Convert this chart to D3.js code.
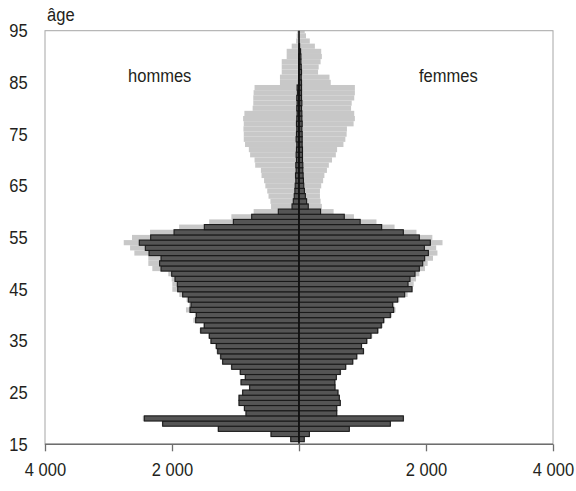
<!DOCTYPE html>
<html lang="fr">
<head>
    <meta charset="UTF-8">
    <title>Pyramide des âges</title>
    <script src="https://d3js.org/d3.v7.min.js"></script>
    <style>
        body {
            margin: 0;
            background: #fff;
        }
        svg text {
            font-family: "Liberation Sans", Arial, sans-serif;
            font-size: 19px;
            fill: #231f20;
        }
        .domain {
            display: none;
        }
    </style>
</head>
<body>
    <svg width="576" height="491"></svg>
    <script>
        // Âges (une catégorie par année)
        const ages = [15, 16, 17, 18, 19, 20, 21, 22, 23, 24, 25, 26, 27, 28, 29, 30, 31, 32, 33, 34,
            35, 36, 37, 38, 39, 40, 41, 42, 43, 44, 45, 46, 47, 48, 49, 50, 51, 52, 53, 54,
            55, 56, 57, 58, 59, 60, 61, 62, 63, 64, 65, 66, 67, 68, 69, 70, 71, 72, 73, 74,
            75, 76, 77, 78, 79, 80, 81, 82, 83, 84, 85, 86, 87, 88, 89, 90, 91, 92, 93, 94, 95];

        // Série foncée
        const hommes = [0, 130, 441, 1270, 2147, 2436, 835, 860, 945, 945, 887, 777, 913, 845, 924, 1060, 1202, 1233, 1280, 1302,
            1386, 1412, 1548, 1491, 1627, 1617, 1717, 1700, 1743, 1832, 1910, 1916, 1953, 2005, 2173, 2195, 2173, 2362, 2420, 2515,
            2336, 1968, 1491, 1034, 745, 326, 110, 90, 75, 65, 60, 50, 55, 45, 50, 40, 45, 40, 35, 45,
            40, 35, 40, 35, 30, 35, 30, 35, 25, 30, 8, 6, 5, 4, 3, 2, 0, 0, 0, 0, 0];
        const femmes = [0, 83, 163, 792, 1438, 1643, 594, 594, 650, 635, 614, 567, 565, 588, 650, 735, 846, 909, 1014, 983,
            1066, 1134, 1239, 1296, 1333, 1438, 1491, 1475, 1554, 1664, 1780, 1717, 1748, 1827, 1895, 1948, 1979, 2037, 1974, 2068,
            1895, 1643, 1302, 963, 713, 340, 146, 120, 100, 85, 75, 70, 65, 60, 60, 55, 55, 55, 50, 50,
            50, 45, 50, 45, 45, 40, 45, 40, 40, 40, 40, 35, 40, 35, 30, 30, 25, 10, 0, 0, 0];

        // Série claire (en arrière-plan)
        const hommesFond = [0, 140, 450, 1285, 2160, 2460, 845, 870, 955, 955, 900, 790, 925, 860, 940, 1075, 1215, 1250, 1300, 1320,
            1400, 1430, 1565, 1510, 1664, 1640, 1780, 1730, 1770, 1885, 1995, 1995, 2005, 2058, 2310, 2373, 2373, 2593, 2660, 2760,
            2630, 2346, 1888, 1415, 1065, 714, 440, 450, 480, 500, 530, 550, 590, 600, 690, 700, 770, 790, 850, 870,
            870, 875, 870, 880, 860, 730, 720, 720, 715, 700, 300, 300, 272, 272, 272, 194, 194, 115, 45, 36, 30];
        const femmesFond = [0, 90, 170, 800, 1450, 1655, 605, 605, 660, 645, 625, 580, 575, 600, 665, 750, 860, 925, 1030, 1000,
            1085, 1155, 1260, 1320, 1355, 1465, 1520, 1500, 1580, 1711, 1790, 1806, 1843, 1895, 1984, 2026, 2110, 2180, 2160, 2260,
            2100, 1850, 1505, 1220, 865, 545, 360, 340, 330, 330, 350, 380, 400, 440, 470, 520, 580, 600, 700, 730,
            750, 755, 860, 880, 870, 820, 830, 870, 880, 880, 500, 480, 300, 310, 340, 360, 350, 250, 170, 110, 90];

        const xTicks = [-4000, -2000, 0, 2000, 4000];
        const yTicks = [15, 25, 35, 45, 55, 65, 75, 85, 95];

        const data = ages.map((a, i) => ({
            age: a,
            h: hommes[i], f: femmes[i],
            hf: hommesFond[i], ff: femmesFond[i]
        }));

        const W = 576, H = 491;
        const margin = { top: 30.7, right: 23, bottom: 46.7, left: 45 };
        const svg = d3.select("svg");

        const x = d3.scaleLinear()
            .domain([-4000, 4000])
            .range([margin.left, W - margin.right]);

        // catégories centrées sur les graduations (15 en bas, 95 en haut)
        const y = d3.scalePoint()
            .domain(ages)
            .range([H - margin.bottom, margin.top]);
        const step = y.step();

        svg.append("clipPath").attr("id", "zone")
            .append("rect")
            .attr("x", margin.left).attr("y", margin.top)
            .attr("width", W - margin.left - margin.right)
            .attr("height", H - margin.top - margin.bottom);

        const plot = svg.append("g").attr("clip-path", "url(#zone)");

        // barres claires
        plot.selectAll(".fond-h").data(data).enter().append("rect")
            .attr("x", d => x(-d.hf))
            .attr("y", d => y(d.age) - step / 2)
            .attr("width", d => x(0) - x(-d.hf))
            .attr("height", step)
            .attr("fill", "#c8c8c8");
        plot.selectAll(".fond-f").data(data).enter().append("rect")
            .attr("x", x(0))
            .attr("y", d => y(d.age) - step / 2)
            .attr("width", d => x(d.ff) - x(0))
            .attr("height", step)
            .attr("fill", "#c8c8c8");

        // barres foncées
        const dark = plot.append("g")
            .attr("fill", "#555555")
            .attr("stroke", "#1a1a1a")
            .attr("stroke-width", 1.1);
        dark.selectAll(".h").data(data.filter(d => d.h > 0)).enter().append("rect")
            .attr("x", d => x(-d.h))
            .attr("y", d => y(d.age) - step / 2)
            .attr("width", d => x(0) - x(-d.h))
            .attr("height", step);
        dark.selectAll(".f").data(data.filter(d => d.f > 0)).enter().append("rect")
            .attr("x", x(0))
            .attr("y", d => y(d.age) - step / 2)
            .attr("width", d => x(d.f) - x(0))
            .attr("height", step);

        // cadre
        svg.append("rect")
            .attr("x", margin.left).attr("y", margin.top)
            .attr("width", W - margin.left - margin.right)
            .attr("height", H - margin.top - margin.bottom)
            .attr("fill", "none")
            .attr("stroke", "#a6a6a6")
            .attr("stroke-width", 1);

        // axe vertical au zéro
        svg.append("line")
            .attr("x1", x(0)).attr("x2", x(0))
            .attr("y1", margin.top).attr("y2", H - margin.bottom)
            .attr("stroke", "#111")
            .attr("stroke-width", 1.6);

        // axe horizontal
        const fmt = d3.formatLocale({ decimal: ",", thousands: " ", grouping: [3], currency: ["", ""] }).format(",d");
        const xAxis = svg.append("g")
            .attr("transform", `translate(0,${H - margin.bottom})`)
            .call(d3.axisBottom(x)
                .tickValues(xTicks)
                .tickSize(7)
                .tickPadding(11)
                .tickFormat(d => d === 0 ? "" : fmt(Math.abs(d))));
        xAxis.select(".domain").remove();
        xAxis.append("line")
            .attr("x1", margin.left).attr("x2", W - margin.right)
            .attr("stroke", "#6e6e6e").attr("stroke-width", 1.5);
        xAxis.selectAll(".tick line").attr("stroke", "#6e6e6e").attr("stroke-width", 1.3);
        xAxis.selectAll("text").attr("transform", "scale(0.87,1)");

        // étiquettes d'âge
        const yAxis = svg.append("g")
            .attr("transform", `translate(${margin.left},0)`)
            .call(d3.axisLeft(y)
                .tickValues(yTicks)
                .tickSize(0)
                .tickPadding(20));
        yAxis.selectAll("text").attr("transform", "scale(0.87,1)");

        // textes
        const label = (txt, tx, ty) => svg.append("text")
            .attr("transform", `translate(${tx},${ty}) scale(0.87,1)`)
            .text(txt);
        label("âge", 47, 21);
        label("hommes", 128, 81.5);
        label("femmes", 419, 81.5);
    </script>
</body>
</html>
